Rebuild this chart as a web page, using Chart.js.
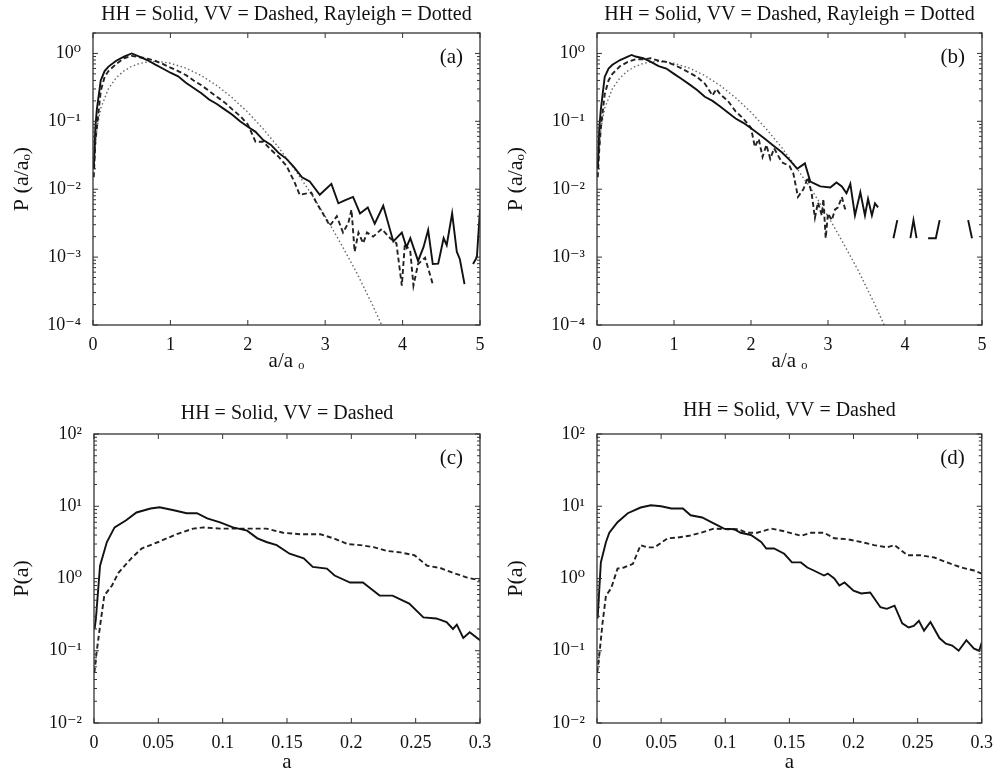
<!DOCTYPE html>
<html>
<head>
<meta charset="utf-8">
<script src="https://cdn.jsdelivr.net/npm/chart.js@4.4.0/dist/chart.umd.min.js"></script>
<style>
body { margin: 0; background: #fff; }
canvas { position: absolute; }
</style>
</head>
<body>
<canvas id="canvas1" width="494" height="385" style="left:0;top:0"></canvas>
<canvas id="canvas2" width="500" height="385" style="left:494px;top:0"></canvas>
<canvas id="canvas3" width="494" height="390" style="left:0;top:385px"></canvas>
<canvas id="canvas4" width="500" height="390" style="left:494px;top:385px"></canvas>
<script>
// ---- tick values / labels
const xTicksAB = [0, 1, 2, 3, 4, 5];
const xLabelsAB = ['0', '1', '2', '3', '4', '5'];
const yTicksAB = [1e-4, 1e-3, 1e-2, 1e-1, 1];
const yLabelsAB = ['10⁻⁴', '10⁻³', '10⁻²', '10⁻¹', '10⁰'];
const xTicksCD = [0, 0.05, 0.1, 0.15, 0.2, 0.25, 0.3];
const xLabelsCD = ['0', '0.05', '0.1', '0.15', '0.2', '0.25', '0.3'];
const yTicksCD = [1e-2, 1e-1, 1, 10, 100];
const yLabelsCD = ['10⁻²', '10⁻¹', '10⁰', '10¹', '10²'];

// ---- Rayleigh reference (dotted), panels a and b
const rayX = [0.02, 0.05, 0.1, 0.2, 0.3, 0.4, 0.5, 0.6, 0.7, 0.8, 0.9, 1.0, 1.2, 1.4, 1.6, 1.8, 2.0, 2.2, 2.4, 2.6, 2.8, 3.0, 3.2, 3.4, 3.6, 3.73];
const rayY = [0.031, 0.078, 0.156, 0.304, 0.439, 0.554, 0.646, 0.711, 0.749, 0.76, 0.748, 0.716, 0.608, 0.472, 0.337, 0.222, 0.136, 0.077, 0.041, 0.02, 0.0093, 0.004, 0.0016, 0.00061, 0.00021, 0.0001];

// ---- panel (a)
const hhAx = [0.01, 0.03, 0.05, 0.1, 0.15, 0.2, 0.3, 0.4, 0.5, 0.6, 0.7, 0.8, 0.9, 1.0, 1.1, 1.2, 1.3, 1.4, 1.5, 1.6, 1.7, 1.8, 1.9, 2.0, 2.1, 2.2, 2.3, 2.4, 2.5, 2.6, 2.7, 2.8, 2.93, 3.08, 3.17, 3.26, 3.36, 3.45, 3.55, 3.64, 3.75, 3.88, 3.99, 4.05, 4.1, 4.2, 4.27, 4.33, 4.39, 4.46, 4.53, 4.57, 4.64, 4.7, 4.74, 4.8, 4.85, 4.91, 4.96, 5.0];
const hhAy = [0.02, 0.08, 0.15, 0.4, 0.55, 0.64, 0.78, 0.9, 1.0, 0.9, 0.8, 0.69, 0.6, 0.52, 0.46, 0.37, 0.31, 0.26, 0.21, 0.18, 0.15, 0.125, 0.1, 0.083, 0.07, 0.053, 0.045, 0.034, 0.028, 0.021, 0.015, 0.013, 0.0083, 0.012, 0.0062, 0.0069, 0.0077, 0.0044, 0.0054, 0.0031, 0.0057, 0.0017, 0.0023, 0.0014, 0.0019, 0.00088, 0.0014, 0.0025, 0.00079, 0.0008, 0.0019, 0.0015, 0.0044, 0.0012, 0.00093, 0.0004, null, 0.00079, 0.001, 0.005];
const vvAx = [0.01, 0.03, 0.05, 0.1, 0.15, 0.2, 0.3, 0.4, 0.5, 0.6, 0.7, 0.8, 0.9, 1.0, 1.1, 1.2, 1.3, 1.4, 1.5, 1.6, 1.7, 1.8, 1.9, 2.0, 2.1, 2.2, 2.3, 2.4, 2.5, 2.6, 2.67, 2.82, 2.89, 2.97, 3.06, 3.15, 3.23, 3.3, 3.34, 3.38, 3.43, 3.49, 3.54, 3.62, 3.73, 3.84, 3.92, 3.99, 4.03, 4.1, 4.14, 4.2, 4.29, 4.39];
const vvAy = [0.015, 0.05, 0.08, 0.28, 0.45, 0.55, 0.7, 0.85, 0.92, 0.88, 0.84, 0.78, 0.7, 0.62, 0.55, 0.48, 0.4, 0.34, 0.28, 0.23, 0.19, 0.15, 0.12, 0.09, 0.05, 0.05, 0.038, 0.03, 0.022, 0.013, 0.0083, 0.0089, 0.0062, 0.0044, 0.0029, 0.004, 0.0023, 0.0032, 0.005, 0.0012, 0.0023, 0.0016, 0.0023, 0.002, 0.0026, 0.0019, 0.0016, 0.00038, 0.0016, 0.0012, 0.00038, 0.00079, 0.00098, 0.0004];

// ---- panel (b)
const hhBx = [0.01, 0.03, 0.05, 0.1, 0.15, 0.2, 0.3, 0.4, 0.45, 0.5, 0.6, 0.7, 0.8, 0.9, 1.0, 1.1, 1.2, 1.3, 1.4, 1.5, 1.6, 1.7, 1.8, 1.9, 2.0, 2.1, 2.2, 2.3, 2.4, 2.5, 2.6, 2.7, 2.77, 2.9, 3.03, 3.11, 3.18, 3.24, 3.29, 3.35, 3.42, 3.48, 3.52, 3.57, 3.61, 3.65, 3.75, 3.85, 3.9, 4.0, 4.07, 4.11, 4.15, 4.2, 4.3, 4.4, 4.45, 4.6, 4.82, 4.87];
const hhBy = [0.02, 0.08, 0.15, 0.45, 0.6, 0.68, 0.8, 0.9, 0.95, 0.9, 0.85, 0.75, 0.65, 0.6, 0.5, 0.42, 0.35, 0.29, 0.23, 0.2, 0.165, 0.135, 0.11, 0.095, 0.079, 0.065, 0.053, 0.043, 0.035, 0.027, 0.02, 0.024, 0.013, 0.011, 0.0106, 0.0126, 0.011, 0.0087, 0.012, 0.0041, 0.009, 0.0041, 0.0072, 0.0041, 0.0062, 0.0054, null, 0.0019, 0.0035, null, 0.0019, 0.0035, 0.0019, null, 0.0019, 0.0019, 0.0035, null, 0.0035, 0.0019];
const vvBx = [0.01, 0.03, 0.05, 0.1, 0.15, 0.2, 0.3, 0.4, 0.5, 0.6, 0.7, 0.8, 0.9, 1.0, 1.1, 1.2, 1.3, 1.4, 1.5, 1.55, 1.6, 1.7, 1.8, 1.9, 2.0, 2.05, 2.1, 2.15, 2.2, 2.25, 2.3, 2.4, 2.5, 2.55, 2.61, 2.68, 2.74, 2.79, 2.83, 2.87, 2.92, 2.94, 2.97, 3.0, 3.05, 3.09, 3.13, 3.18, 3.22, 3.26];
const vvBy = [0.015, 0.04, 0.08, 0.25, 0.4, 0.5, 0.65, 0.75, 0.82, 0.82, 0.85, 0.78, 0.75, 0.68, 0.6, 0.52, 0.45, 0.36, 0.24, 0.3, 0.25, 0.2, 0.14, 0.11, 0.08, 0.042, 0.055, 0.03, 0.045, 0.028, 0.04, 0.025, 0.022, 0.017, 0.0077, 0.01, 0.015, 0.0083, 0.0038, 0.0064, 0.0041, 0.0072, 0.0019, 0.0044, 0.0035, 0.005, 0.0054, 0.0077, 0.0052, 0.005];

// ---- panel (c)
const hhCx = [0.0005, 0.0015, 0.0047, 0.01, 0.016, 0.025, 0.033, 0.044, 0.051, 0.062, 0.072, 0.08, 0.088, 0.098, 0.108, 0.119, 0.127, 0.134, 0.142, 0.152, 0.163, 0.17, 0.181, 0.187, 0.199, 0.209, 0.214, 0.222, 0.232, 0.245, 0.256, 0.266, 0.274, 0.279, 0.282, 0.287, 0.292, 0.3];
const hhCy = [0.2, 0.28, 1.5, 3.2, 5.1, 6.4, 8.2, 9.3, 9.7, 8.8, 8.0, 8.0, 6.8, 6.0, 5.1, 4.6, 3.6, 3.2, 2.9, 2.2, 1.9, 1.45, 1.37, 1.1, 0.88, 0.88, 0.75, 0.58, 0.58, 0.45, 0.29, 0.28, 0.25, 0.2, 0.23, 0.15, 0.18, 0.14];
const vvCx = [0.0003, 0.002, 0.0047, 0.008, 0.014, 0.019, 0.029, 0.037, 0.05, 0.064, 0.077, 0.085, 0.098, 0.114, 0.134, 0.147, 0.16, 0.176, 0.186, 0.197, 0.207, 0.218, 0.228, 0.238, 0.249, 0.259, 0.269, 0.279, 0.29, 0.3];
const vvCy = [0.05, 0.094, 0.22, 0.58, 0.8, 1.2, 1.9, 2.6, 3.2, 4.1, 4.9, 5.1, 4.9, 4.9, 4.9, 4.3, 4.1, 4.1, 3.6, 3.0, 2.9, 2.7, 2.4, 2.3, 2.1, 1.5, 1.4, 1.2, 1.03, 0.94];

// ---- panel (d)
const hhDx = [0.0005, 0.003, 0.007, 0.0096, 0.016, 0.024, 0.034, 0.042, 0.05, 0.058, 0.067, 0.073, 0.082, 0.091, 0.099, 0.107, 0.112, 0.12, 0.128, 0.132, 0.138, 0.146, 0.152, 0.159, 0.164, 0.169, 0.177, 0.18, 0.185, 0.189, 0.193, 0.2, 0.206, 0.213, 0.221, 0.226, 0.232, 0.238, 0.243, 0.247, 0.251, 0.255, 0.26, 0.267, 0.272, 0.277, 0.282, 0.288, 0.294, 0.298, 0.3];
const hhDy = [0.28, 1.67, 3.2, 4.3, 6.0, 8.0, 9.6, 10.3, 10.0, 9.3, 9.3, 7.5, 7.0, 5.8, 4.9, 4.8, 4.3, 4.0, 3.2, 2.6, 2.6, 2.2, 1.67, 1.67, 1.42, 1.29, 1.1, 1.17, 1.0, 0.8, 0.88, 0.68, 0.62, 0.64, 0.4, 0.38, 0.42, 0.24, 0.21, 0.22, 0.26, 0.19, 0.25, 0.15, 0.125, 0.118, 0.1, 0.14, 0.107, 0.1, 0.13];
const vvDx = [0.0002, 0.002, 0.0044, 0.007, 0.011, 0.016, 0.021, 0.028, 0.034, 0.039, 0.045, 0.055, 0.063, 0.072, 0.081, 0.091, 0.102, 0.11, 0.117, 0.125, 0.136, 0.146, 0.159, 0.167, 0.177, 0.185, 0.195, 0.206, 0.216, 0.226, 0.232, 0.242, 0.252, 0.263, 0.273, 0.284, 0.294, 0.3];
const vvDy = [0.05, 0.094, 0.25, 0.58, 0.73, 1.37, 1.42, 1.6, 2.9, 2.7, 2.7, 3.6, 3.7, 3.9, 4.3, 4.9, 4.8, 4.8, 4.3, 4.3, 4.9, 4.5, 3.9, 4.3, 4.3, 3.6, 3.5, 3.2, 2.9, 2.7, 2.9, 2.1, 2.1, 1.95, 1.67, 1.42, 1.29, 1.17];

Chart.defaults.font.family = '"Liberation Serif", "DejaVu Serif", serif';
Chart.defaults.color = '#111';

const pts = (xs, ys) => xs.map((x, i) => ({ x: x, y: ys[i] }));

// box, inward ticks, title and panel letter
const frame = {
    id: 'frame',
    afterDraw(chart, args, opts) {
        const { ctx, chartArea: a, scales } = chart;
        const line = (x1, y1, x2, y2) => { ctx.beginPath(); ctx.moveTo(x1, y1); ctx.lineTo(x2, y2); ctx.stroke(); };
        ctx.save();
        ctx.strokeStyle = '#333';
        ctx.lineWidth = 1.3;
        ctx.strokeRect(a.left, a.top, a.right - a.left, a.bottom - a.top);
        ctx.lineWidth = 1;
        scales.x.ticks.forEach(t => {
            const px = scales.x.getPixelForValue(t.value);
            line(px, a.bottom, px, a.bottom - 5);
            line(px, a.top, px, a.top + 5);
        });
        const y = scales.y;
        for (let e = Math.floor(Math.log10(y.min)); e <= Math.ceil(Math.log10(y.max)); e++) {
            for (let m = 1; m < 10; m++) {
                const v = m * Math.pow(10, e);
                if (v < y.min || v > y.max) continue;
                const py = y.getPixelForValue(v);
                const len = m === 1 ? 5 : 3;
                line(a.left, py, a.left + len, py);
                line(a.right, py, a.right - len, py);
            }
        }
        ctx.fillStyle = '#111';
        ctx.textBaseline = 'middle';
        ctx.font = '20px "Liberation Serif"';
        ctx.textAlign = 'center';
        ctx.fillText(opts.title, (a.left + a.right) / 2, opts.titleY);
        ctx.font = '21px "Liberation Serif"';
        ctx.textAlign = 'right';
        ctx.fillText(opts.label, a.right - 17, a.top + 24);
        ctx.restore();
    }
};

function panel(id, sets, cfg) {
    new Chart(document.getElementById(id), {
        type: 'line',
        data: { datasets: sets },
        options: {
            responsive: false,
            animation: false,
            spanGaps: false,
            layout: { padding: { left: 0, right: cfg.right, top: cfg.top, bottom: 0 } },
            elements: { point: { radius: 0 }, line: { tension: 0 } },
            plugins: {
                legend: { display: false },
                tooltip: { enabled: false },
                frame: { title: cfg.title, titleY: cfg.titleY, label: cfg.label }
            },
            scales: {
                x: {
                    type: 'linear',
                    min: cfg.xTicks[0],
                    max: cfg.xTicks[cfg.xTicks.length - 1],
                    afterBuildTicks: s => { s.ticks = cfg.xTicks.map(v => ({ value: v })); },
                    afterFit: s => { s.height = cfg.xHeight; },
                    grid: { display: false },
                    border: { display: false },
                    ticks: {
                        padding: 1,
                        maxRotation: 0,
                        font: { size: 18 },
                        callback: (v, i) => cfg.xLabels[i]
                    },
                    title: { display: true, text: cfg.xTitle, font: { size: 21 }, padding: { top: 0, bottom: cfg.xTitlePad } }
                },
                y: {
                    type: 'logarithmic',
                    min: cfg.yTicks[0],
                    max: cfg.yMax,
                    afterBuildTicks: s => { s.ticks = cfg.yTicks.map(v => ({ value: v })); },
                    afterFit: s => { s.width = cfg.yWidth; },
                    grid: { display: false },
                    border: { display: false },
                    ticks: {
                        padding: 4,
                        font: { size: 18 },
                        callback: (v, i) => cfg.yLabels[i]
                    },
                    title: { display: true, text: cfg.yTitle, font: { size: 22 }, padding: { top: 9, bottom: 0 } }
                }
            }
        },
        plugins: [frame]
    });
}

const solid = (d) => ({ data: d, borderColor: '#111', borderWidth: 1.9 });
const dashed = (d) => ({ data: d, borderColor: '#222', borderWidth: 1.9, borderDash: [5, 3] });
const dotted = (d) => ({ data: d, borderColor: '#666', borderWidth: 1.4, borderDash: [1.5, 2.5] });

//----------------PANEL A
panel('canvas1', [solid(pts(hhAx, hhAy)), dashed(pts(vvAx, vvAy)), dotted(pts(rayX, rayY))], {
    title: 'HH = Solid, VV = Dashed, Rayleigh = Dotted', titleY: 15, label: '(a)',
    right: 14, top: 33, xHeight: 60, yWidth: 93,
    xTicks: xTicksAB, xLabels: xLabelsAB, yTicks: yTicksAB, yLabels: yLabelsAB, yMax: 2,
    xTitle: 'a/a ₒ', yTitle: 'P (a/aₒ)', xTitlePad: 11
});

//----------------PANEL B
panel('canvas2', [solid(pts(hhBx, hhBy)), dashed(pts(vvBx, vvBy)), dotted(pts(rayX, rayY))], {
    title: 'HH = Solid, VV = Dashed, Rayleigh = Dotted', titleY: 15, label: '(b)',
    right: 12, top: 33, xHeight: 60, yWidth: 103,
    xTicks: xTicksAB, xLabels: xLabelsAB, yTicks: yTicksAB, yLabels: yLabelsAB, yMax: 2,
    xTitle: 'a/a ₒ', yTitle: 'P (a/aₒ)', xTitlePad: 11
});

//----------------PANEL C
panel('canvas3', [solid(pts(hhCx, hhCy)), dashed(pts(vvCx, vvCy))], {
    title: 'HH = Solid, VV = Dashed', titleY: 29, label: '(c)',
    right: 14, top: 49, xHeight: 52, yWidth: 94,
    xTicks: xTicksCD, xLabels: xLabelsCD, yTicks: yTicksCD, yLabels: yLabelsCD, yMax: 100,
    xTitle: 'a', yTitle: 'P(a)', xTitlePad: 0
});

//----------------PANEL D
panel('canvas4', [solid(pts(hhDx, hhDy)), dashed(pts(vvDx, vvDy))], {
    title: 'HH = Solid, VV = Dashed', titleY: 26, label: '(d)',
    right: 12, top: 49, xHeight: 52, yWidth: 103,
    xTicks: xTicksCD, xLabels: xLabelsCD, yTicks: yTicksCD, yLabels: yLabelsCD, yMax: 100,
    xTitle: 'a', yTitle: 'P(a)', xTitlePad: 0
});
</script>
</body>
</html>
